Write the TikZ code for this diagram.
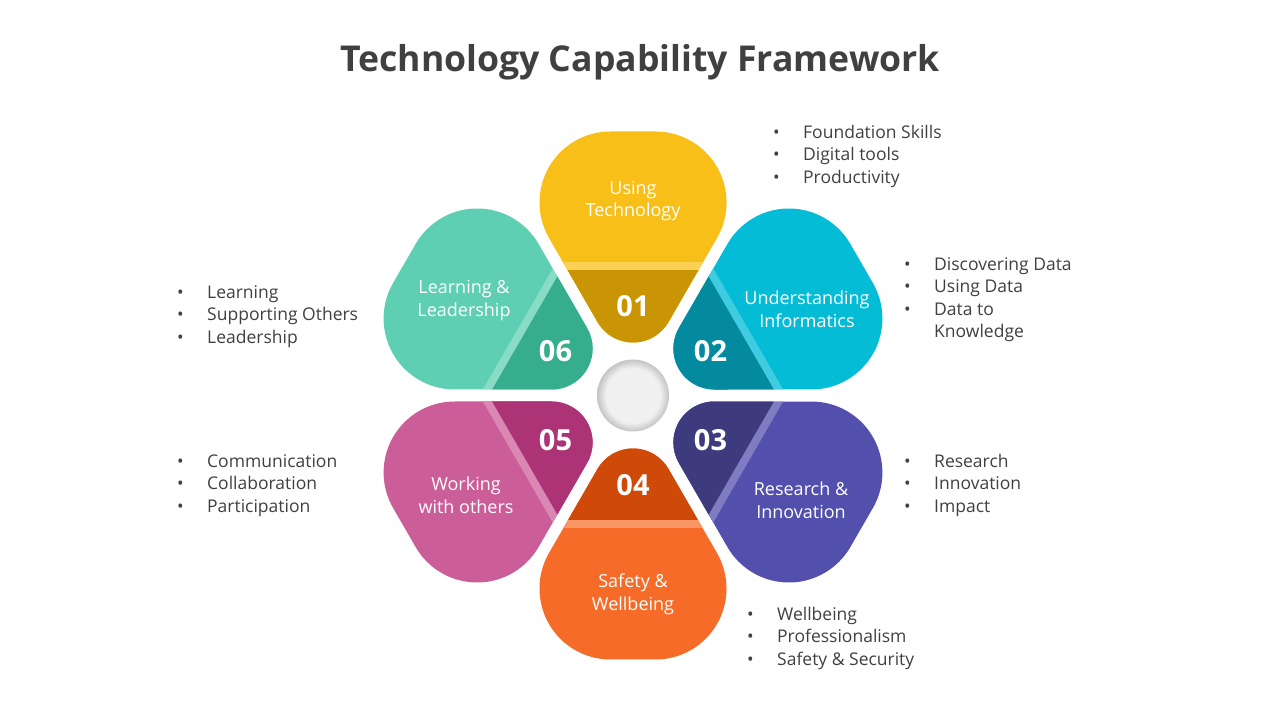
\documentclass[tikz,border=0pt]{standalone}
\usepackage{fontspec}
\setmainfont{Open Sans}
\definecolor{txt}{HTML}{404040}
\definecolor{c1l}{HTML}{F9BF19}\definecolor{c1d}{HTML}{C99505}\definecolor{c1s}{HTML}{FBD055}
\definecolor{c2l}{HTML}{04BCD6}\definecolor{c2d}{HTML}{038A9E}\definecolor{c2s}{HTML}{40CCE0}
\definecolor{c3l}{HTML}{5250AC}\definecolor{c3d}{HTML}{3D3A7D}\definecolor{c3s}{HTML}{7F7CC4}
\definecolor{c4l}{HTML}{F76B29}\definecolor{c4d}{HTML}{CF4A08}\definecolor{c4s}{HTML}{F99464}
\definecolor{c5l}{HTML}{CB5E98}\definecolor{c5d}{HTML}{AD3377}\definecolor{c5s}{HTML}{DA87B4}
\definecolor{c6l}{HTML}{5ECFB2}\definecolor{c6d}{HTML}{36AE8E}\definecolor{c6s}{HTML}{88DCC6}
\definecolor{hubin}{HTML}{F0F0F0}\definecolor{hubout}{HTML}{C4C4C4}
\pgfdeclareradialshading{knob}{\pgfpoint{0bp}{0bp}}{color(0bp)=(hubin); color(19bp)=(hubin); color(25bp)=(hubout); color(50bp)=(hubout)}
\newcommand\bul{\llap{•\hspace{23.6pt}}}
\tikzset{
  petalshape/.style={insert path={(-35.5,73.5) arc[start angle=210,end angle=330,radius=41]
      -- (84,157.5) arc[start angle=-30,end angle=90,radius=71]
      -- (-22.5,264) arc[start angle=90,end angle=210,radius=71] -- cycle}},
  num/.style={text=white, inner sep=0, font=\fontsize{29}{34}\selectfont\bfseries},
  plabel/.style={text=white, inner sep=0, align=center, font=\fontsize{18}{22.5}\selectfont},
  item/.style={text=txt, inner sep=0, anchor=base west, font=\fontsize{17.5}{20}\selectfont},
}
\begin{document}
\begin{tikzpicture}[x=1pt,y=1pt]
\useasboundingbox (0,0) rectangle (1280,720);
\fill[white] (0,0) rectangle (1280,720);
\node[text=txt, inner sep=0, anchor=base, font=\fontsize{35.6}{40}\selectfont\bfseries] (title) at (640,648) {Technology Capability Framework};
\foreach \k/\cl/\cd/\cs/\n in {0/c1l/c1d/c1s/01, 1/c2l/c2d/c2s/02, 2/c3l/c3d/c3s/03, 3/c4l/c4d/c4s/04, 4/c5l/c5d/c5s/05, 5/c6l/c6d/c6s/06}{
  \begin{scope}[shift={(633,324.5)}, rotate=-60*\k]
    \fill[\cl, petalshape];
    \begin{scope}
      \clip[petalshape];
      \fill[\cs] (-160,0) rectangle (160,133);
      \fill[\cd] (-160,0) rectangle (160,125);
    \end{scope}
    \node[num] (n\n) at (0,89.5) {\n};
  \end{scope}
}
\node[circle, minimum size=72, inner sep=0, shading=knob] (hub) at (633,324.5) {};
\node[plabel] (l1) at (633,519) {Using\\Technology};
\node[plabel] (l2) at (807,410.5) {Understanding\\Informatics};
\node[plabel] (l3) at (801,219.5) {Research \&\\Innovation};
\node[plabel] (l4) at (633,125.5) {Safety \&\\Wellbeing};
\node[plabel] (l5) at (466,224.5) {Working\\with others};
\node[plabel] (l6) at (464,419.5) {Learning \&\\Leadership};
% lists
\node[item] (a1) at (803,581.5) {\bul Foundation Skills};
\node[item] (a2) at (803,559) {\bul Digital tools};
\node[item] (a3) at (803,536.5) {\bul Productivity};
\node[item] (b1) at (934,449.5) {\bul Discovering Data};
\node[item] (b2) at (934,427) {\bul Using Data};
\node[item] (b3) at (934,404.5) {\bul Data to};
\node[item] (b4) at (934,382) {Knowledge};
\node[item] (c1) at (934,252.5) {\bul Research};
\node[item] (c2) at (934,230) {\bul Innovation};
\node[item] (c3) at (934,207.5) {\bul Impact};
\node[item] (d1) at (777,99.5) {\bul Wellbeing};
\node[item] (d2) at (777,77) {\bul Professionalism};
\node[item] (d3) at (777,54.5) {\bul Safety \& Security};
\node[item] (e1) at (207,421.5) {\bul Learning};
\node[item] (e2) at (207,399) {\bul Supporting Others};
\node[item] (e3) at (207,376.5) {\bul Leadership};
\node[item] (f1) at (207,252.5) {\bul Communication};
\node[item] (f2) at (207,230) {\bul Collaboration};
\node[item] (f3) at (207,207.5) {\bul Participation};
\end{tikzpicture}
\end{document}
